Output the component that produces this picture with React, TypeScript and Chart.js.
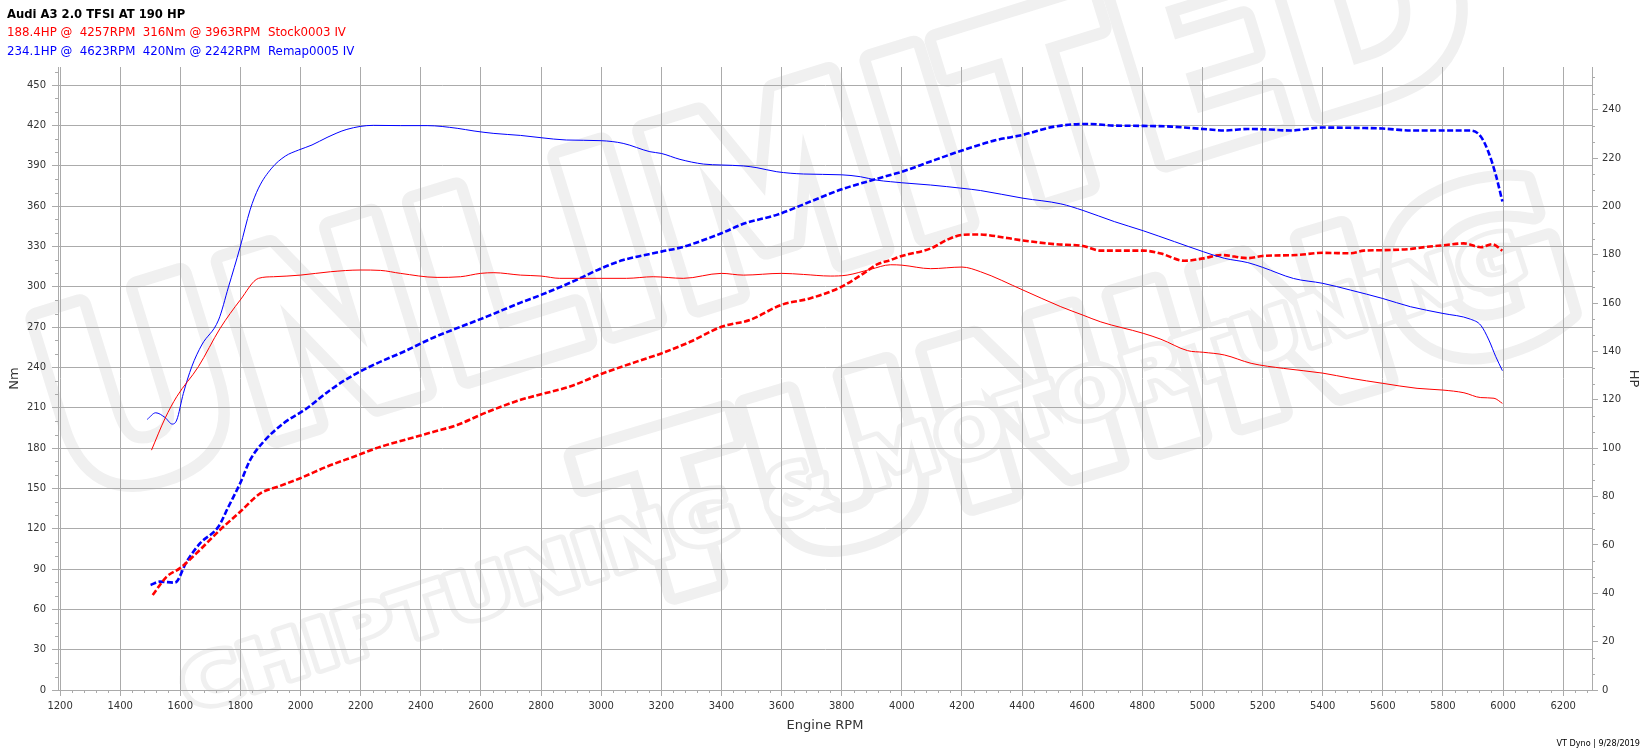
import React, { useEffect, useRef } from 'react';
import { Chart, registerables } from 'chart.js';

Chart.register(...registerables);

// ---- Data ----
const stockTorqueRpm = [1504, 1549, 1588, 1660, 1732, 1799, 1860, 1910, 1999, 2099, 2199, 2266, 2332, 2454, 2532, 2599, 2643, 2732, 2800, 2862, 3000, 3084, 3173, 3273, 3400, 3473, 3600, 3673, 3762, 3818, 3896, 3963, 4000, 4096, 4200, 4262, 4403, 4529, 4603, 4662, 4803, 4862, 4951, 5003, 5073, 5162, 5270, 5400, 5492, 5600, 5714, 5800, 5870, 5926, 5970, 5998];
const stockTorqueNm = [178.4, 202, 218.2, 240.5, 268.9, 290, 306.2, 307.4, 308.6, 311.1, 312.4, 312.1, 309.9, 306.9, 307.4, 309.9, 310.4, 308.6, 307.9, 306.2, 306.2, 306.2, 307.4, 306.2, 309.9, 308.6, 309.9, 309.1, 307.9, 308.6, 312.9, 316.3, 316, 313.4, 314.6, 311.1, 297.5, 285.1, 278.8, 273.8, 265.3, 260.9, 252.4, 251.2, 249.2, 243, 239.2, 235.7, 231.9, 228.1, 224.4, 223.1, 221.1, 217.5, 217, 213.2];

const stockPowerRpm = [1508, 1554, 1599, 1654, 1732, 1799, 1866, 1932, 1999, 2088, 2177, 2266, 2354, 2443, 2521, 2610, 2732, 2800, 2896, 3000, 3118, 3200, 3296, 3400, 3496, 3600, 3696, 3800, 3873, 3918, 3962, 4000, 4096, 4151, 4200, 4257, 4351, 4403, 4507, 4603, 4662, 4803, 4862, 4940, 5003, 5062, 5151, 5200, 5314, 5400, 5492, 5537, 5600, 5692, 5748, 5800, 5870, 5926, 5964, 5998];
const stockPowerHp = [39.3, 46.8, 50.4, 56.6, 66.2, 73.7, 81.3, 84.4, 87.6, 92.4, 96.5, 100.6, 103.7, 106.8, 109.6, 114.4, 120, 122.3, 125.5, 130.7, 135.8, 139.2, 144, 150.2, 153.1, 159.3, 162, 166.8, 172.3, 176, 177.8, 179.5, 182.6, 186.2, 188.2, 188.4, 186.9, 185.9, 184.4, 183.6, 181.7, 181.7, 180.5, 177.5, 178.5, 179.9, 178.6, 179.5, 179.9, 180.8, 180.6, 181.7, 181.9, 182.4, 183.3, 183.9, 184.7, 183.1, 184.4, 181.7];

const remapTorqueRpm = [1490, 1518, 1549, 1573, 1588, 1610, 1638, 1671, 1727, 1760, 1799, 1832, 1860, 1904, 1949, 1993, 2038, 2088, 2154, 2242, 2332, 2421, 2521, 2577, 2643, 2732, 2800, 2884, 3000, 3073, 3162, 3200, 3262, 3340, 3400, 3473, 3518, 3584, 3673, 3800, 3862, 3918, 3962, 4000, 4096, 4200, 4262, 4403, 4529, 4603, 4707, 4803, 4907, 5003, 5073, 5151, 5200, 5303, 5400, 5492, 5600, 5692, 5800, 5892, 5926, 5953, 5976, 5998];
const remapTorqueNm = [201.3, 206.2, 202.7, 197.8, 200.8, 220.6, 240.5, 256.6, 275.2, 299.7, 329.5, 357.1, 373.3, 388.2, 397.1, 401.6, 405.4, 411, 417, 420, 419.8, 419.8, 417.8, 415.8, 414, 412.5, 410.8, 409.1, 408.6, 406.6, 400.4, 399.1, 394.7, 391.2, 390.5, 389.8, 388.5, 385.5, 383.8, 383.2, 381.8, 379.2, 378.1, 377.3, 375.6, 373.2, 371.5, 365.8, 361.6, 356.7, 348.4, 341.6, 333.5, 326, 321.1, 317.9, 314.4, 306.1, 302.5, 297.5, 291.2, 285.1, 280.1, 275.8, 271.3, 260.3, 247.9, 237.5];

const remapPowerRpm = [1501, 1532, 1582, 1621, 1666, 1727, 1760, 1799, 1832, 1877, 1943, 2021, 2099, 2177, 2254, 2343, 2443, 2532, 2621, 2732, 2800, 2918, 3000, 3073, 3200, 3273, 3400, 3473, 3584, 3696, 3800, 3884, 3962, 4000, 4096, 4200, 4307, 4403, 4507, 4623, 4707, 4803, 4896, 5003, 5073, 5151, 5200, 5292, 5400, 5492, 5600, 5692, 5800, 5892, 5926, 5953, 5976, 5998];
const remapPowerHp = [43.4, 44.8, 44.4, 53.1, 60.7, 67.6, 75.8, 85.5, 95.1, 102.7, 110.3, 116.5, 124.1, 130.3, 135.1, 139.9, 145.8, 150.2, 154.5, 160.2, 163.4, 169.6, 174.4, 177.8, 181.3, 183.3, 188.9, 192.8, 196.5, 202, 207.1, 210.2, 213, 214.3, 218.6, 223.1, 227.2, 229.6, 233, 234.1, 233.4, 233.3, 233, 232, 231.4, 232, 231.9, 231.4, 232.6, 232.5, 232.2, 231.4, 231.4, 231.4, 228.9, 222, 213, 202];

// Axis limits
const rpmMin = 1193;
const rpmMax = 6296;
const rpmStep = 200;
const nmMax = 463.4;
const nmStep = 30;
const hpMax = 257.65;
const hpStep = 20;

// Texts
const titleText = 'Audi A3 2.0 TFSI AT 190 HP';
const stockText = '188.4HP @  4257RPM  316Nm @ 3963RPM  Stock0003 IV';
const remapText = '234.1HP @  4623RPM  420Nm @ 2242RPM  Remap0005 IV';
const footerText = 'VT Dyno | 9/28/2019';
const watermarkLines = ['UNLIMITED', 'TUNING', 'CHIPTUNING & MOTORTUNING'];

const FONT = '"DejaVu Sans", Verdana, sans-serif';
const GRID = '#ababab';
const RED = '#ff0000';
const BLUE = '#0000ff';

const pts = (xs: number[], ys: number[]) => xs.map((x, i) => ({ x, y: ys[i] }));

// faint outlined logo watermark behind the grid
const watermark = {
  id: 'watermark',
  beforeDraw(chart: any) {
    const { ctx } = chart;
    const drawLine = (text: string, x0: number, y0: number, x1: number, y1: number, size: number, lw: number) => {
      ctx.save();
      ctx.font = `bold ${size}px "DejaVu Sans"`;
      const w = ctx.measureText(text).width;
      const len = Math.hypot(x1 - x0, y1 - y0);
      ctx.translate(x0, y0);
      ctx.rotate(Math.atan2(y1 - y0, x1 - x0));
      ctx.scale(len / w, 1);
      ctx.textBaseline = 'alphabetic';
      ctx.lineJoin = 'round';
      ctx.strokeStyle = '#f0f0f0';
      ctx.lineWidth = lw;
      ctx.strokeText(text, 0, 0);
      ctx.fillStyle = '#ffffff';
      ctx.fillText(text, 0, 0);
      ctx.restore();
    };
    drawLine(watermarkLines[0], 70, 500, 1490, 60, 250, 24);
    drawLine(watermarkLines[1], 620, 610, 1590, 320, 220, 22);
    drawLine(watermarkLines[2], 190, 712, 1530, 275, 68, 9);
  },
};

const minorTicks = {
  id: 'minorTicks',
  afterDraw(chart: any) {
    const { ctx, chartArea, scales } = chart;
    ctx.save();
    ctx.strokeStyle = GRID;
    ctx.lineWidth = 1;
    ctx.beginPath();
    const x = scales.x;
    for (let v = 1200; v <= rpmMax; v += 40) {
      if (v % 200 === 0) continue;
      const px = Math.round(x.getPixelForValue(v)) + 0.5;
      ctx.moveTo(px, chartArea.bottom);
      ctx.lineTo(px, chartArea.bottom + 3);
    }
    const y = scales.y;
    for (let v = 0; v <= nmMax; v += 10) {
      if (v % 30 === 0) continue;
      const py = Math.round(y.getPixelForValue(v)) + 0.5;
      ctx.moveTo(chartArea.left - 3, py);
      ctx.lineTo(chartArea.left, py);
    }
    const y1 = scales.y1;
    for (let i = 0; (i * 20) / 3 <= hpMax; i++) {
      if (i % 3 === 0) continue;
      const py = Math.round(y1.getPixelForValue((i * 20) / 3)) + 0.5;
      ctx.moveTo(chartArea.right, py);
      ctx.lineTo(chartArea.right + 3, py);
    }
    ctx.stroke();
    ctx.restore();
  },
};

export default function App() {
  const ref = useRef<HTMLCanvasElement>(null);

  useEffect(() => {
    const tickFont = { family: FONT, size: 10 };
    const titleFont = { family: FONT, size: 13 };
    const chart = new Chart(ref.current as HTMLCanvasElement, {
      type: 'line',
      data: {
        datasets: [
          {
            label: 'Stock torque',
            data: pts(stockTorqueRpm, stockTorqueNm),
            yAxisID: 'y',
            borderColor: RED,
            borderWidth: 1,
          },
          {
            label: 'Remap torque',
            data: pts(remapTorqueRpm, remapTorqueNm),
            yAxisID: 'y',
            borderColor: BLUE,
            borderWidth: 1,
          },
          {
            label: 'Stock power',
            data: pts(stockPowerRpm, stockPowerHp),
            yAxisID: 'y1',
            borderColor: RED,
            borderWidth: 2.6,
            borderDash: [6, 2.5],
          },
          {
            label: 'Remap power',
            data: pts(remapPowerRpm, remapPowerHp),
            yAxisID: 'y1',
            borderColor: BLUE,
            borderWidth: 2.6,
            borderDash: [6, 2.5],
          },
        ],
      },
      options: {
        animation: false,
        responsive: false,
        devicePixelRatio: 1,
        layout: { padding: { top: 67, left: 0, right: 0, bottom: 0 } },
        elements: {
          point: { radius: 0 },
          line: { tension: 0, cubicInterpolationMode: 'monotone', fill: false },
        },
        plugins: {
          legend: { display: false },
          tooltip: { enabled: false },
          title: { display: false },
        },
        scales: {
          x: {
            type: 'linear',
            min: rpmMin,
            max: rpmMax,
            ticks: {
              stepSize: rpmStep,
              includeBounds: false,
              padding: 4,
              color: '#333',
              font: tickFont,
              maxRotation: 0,
              autoSkip: false,
              callback: (v: any) => String(v),
            },
            grid: { color: GRID, tickLength: 6, lineWidth: 1 },
            border: { display: true, color: GRID },
            title: {
              display: true,
              text: 'Engine RPM',
              color: '#333',
              font: titleFont,
              padding: { top: 4, bottom: 21 },
            },
            afterFit: (s: any) => {
              s.height = 64;
            },
          },
          y: {
            type: 'linear',
            position: 'left',
            min: 0,
            max: nmMax,
            ticks: {
              stepSize: nmStep,
              includeBounds: false,
              padding: 6,
              color: '#333',
              font: tickFont,
              callback: (v: any) => String(v),
            },
            grid: { color: GRID, tickLength: 6, lineWidth: 1 },
            border: { display: true, color: GRID },
            title: {
              display: true,
              text: 'Nm',
              color: '#333',
              font: titleFont,
              padding: { top: 7, bottom: 4 },
            },
            afterFit: (s: any) => {
              s.width = 58;
            },
          },
          y1: {
            type: 'linear',
            position: 'right',
            min: 0,
            max: hpMax,
            ticks: {
              stepSize: hpStep,
              includeBounds: false,
              padding: 4,
              color: '#333',
              font: tickFont,
              callback: (v: any) => String(v),
            },
            grid: { drawOnChartArea: false, color: GRID, tickLength: 6, lineWidth: 1 },
            border: { display: true, color: GRID },
            title: {
              display: true,
              text: 'HP',
              color: '#333',
              font: titleFont,
              padding: { top: 7, bottom: 4 },
            },
            afterFit: (s: any) => {
              s.width = 56;
            },
          },
        },
      } as any,
      plugins: [watermark, minorTicks],
    });
    return () => chart.destroy();
  }, []);

  return (
    <div
      style={{
        position: 'absolute',
        left: 0,
        top: 0,
        width: 1648,
        height: 754,
        background: '#ffffff',
        fontFamily: FONT,
        overflow: 'hidden',
      }}
    >
      <canvas
        ref={ref}
        width={1648}
        height={754}
        style={{ position: 'absolute', left: 0, top: 0, width: 1648, height: 754 }}
      />
      <div
        style={{
          position: 'absolute',
          left: 7,
          top: 4.5,
          fontSize: 11.8,
          lineHeight: '18.8px',
          whiteSpace: 'pre',
        }}
      >
        <div style={{ fontWeight: 'bold', color: '#000', fontSize: 11.6 }}>{titleText}</div>
        <div style={{ color: RED }}>{stockText}</div>
        <div style={{ color: BLUE }}>{remapText}</div>
      </div>
      <div
        style={{
          position: 'absolute',
          right: 8,
          top: 737.5,
          fontSize: 8.1,
          lineHeight: '10px',
          color: '#000',
          whiteSpace: 'pre',
        }}
      >
        {footerText}
      </div>
    </div>
  );
}
